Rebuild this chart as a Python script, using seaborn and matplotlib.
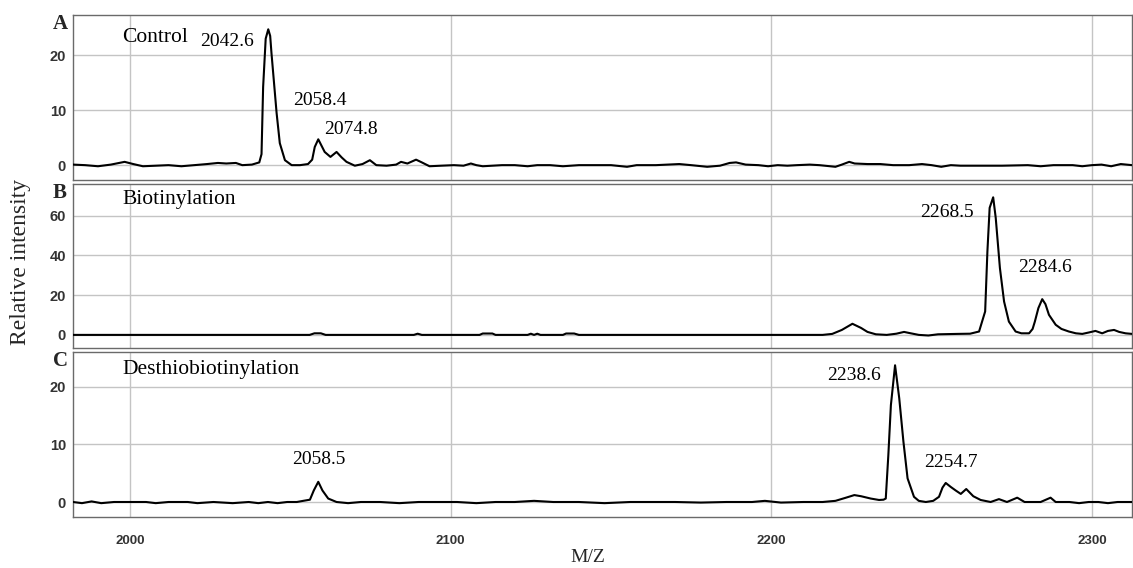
import pandas as pd
import seaborn as sns
import matplotlib.pyplot as plt

# spectra (m/z, relative intensity)
mz_a = [1982.2, 1986, 1990, 1994, 1998.3, 2001, 2004, 2008, 2012, 2016, 2020, 2024, 2027.4, 2030, 2033, 2035,
        2038, 2040.3, 2041.0, 2041.5, 2042.3, 2043.1, 2043.7, 2044.1, 2045.7, 2046.7, 2048.3, 2050.4, 2053,
        2055.5, 2056.8, 2057.6, 2058.7, 2060.7, 2062.5, 2064.4, 2066, 2067.5, 2070.1, 2072.5, 2074.8, 2076.8,
        2080, 2083, 2084.5, 2086.5, 2089.2, 2091, 2093.4, 2097, 2101, 2104, 2106.3, 2108, 2110, 2113, 2116,
        2120, 2124, 2127, 2131, 2135, 2140, 2146, 2150, 2155, 2158, 2164, 2171.3, 2175, 2180, 2184, 2187,
        2189, 2192, 2196, 2199, 2202, 2205, 2208, 2212, 2215, 2220, 2222, 2224.3, 2226, 2230, 2234, 2238,
        2243, 2247, 2250, 2253, 2256, 2259, 2264, 2272, 2280, 2284, 2288, 2294, 2297, 2300, 2303, 2306,
        2309, 2312.5]
int_a = [0.1, 0.0, -0.2, 0.1, 0.6, 0.2, -0.2, -0.1, 0.0, -0.2, 0.0, 0.2, 0.4, 0.3, 0.4, 0.0,
         0.1, 0.5, 2.0, 14.2, 23.0, 24.7, 23.5, 20.4, 9.5, 4.0, 0.9, 0.0, 0.0,
         0.2, 1.0, 3.3, 4.7, 2.4, 1.5, 2.4, 1.4, 0.6, -0.1, 0.2, 0.9, 0.0,
         -0.1, 0.1, 0.6, 0.3, 1.0, 0.5, -0.2, -0.1, 0.0, -0.1, 0.3, 0.0, -0.2, -0.1, 0.0,
         0.0, -0.2, 0.0, 0.0, -0.2, 0.0, 0.0, 0.0, -0.3, 0.0, 0.0, 0.2, 0.0, -0.3, -0.1, 0.4,
         0.5, 0.1, 0.0, -0.2, 0.0, -0.1, 0.0, 0.1, 0.0, -0.3, 0.1, 0.6, 0.3, 0.2, 0.2, 0.0,
         0.0, 0.2, 0.0, -0.3, 0.0, -0.1, -0.1, -0.1, 0.0, -0.2, 0.0, 0.0, -0.2, 0.0, 0.1, -0.2,
         0.2, 0.0]

mz_b = [1982.2, 2000, 2020, 2040, 2056, 2057.5, 2059.5, 2061, 2080, 2088.5, 2089.7, 2091, 2109, 2110, 2113,
        2114, 2124, 2125, 2126, 2127, 2128, 2135, 2136, 2138.5, 2140, 2160, 2190, 2210, 2216, 2219, 2222,
        2225.3, 2228, 2230, 2232.6, 2236, 2239, 2241.4, 2243.5, 2246, 2249, 2252, 2258, 2262, 2264.8,
        2266.7, 2267.4, 2268.1, 2269.2, 2270.0, 2271.3, 2272.6, 2274.1, 2276.2, 2278, 2280.4, 2281.5,
        2282.2, 2283.3, 2284.5, 2285.5, 2286.6, 2288.7, 2290.5, 2292.8, 2295, 2297, 2299, 2301.1, 2303.2,
        2305, 2306.9, 2308.5, 2310.5, 2312.5]
int_b = [0.0, 0.0, 0.0, 0.0, 0.0, 0.8, 0.8, 0.0, 0.0, 0.0, 0.6, 0.0, 0.0, 0.7, 0.7,
         0.0, 0.0, 0.6, 0.0, 0.6, 0.0, 0.0, 0.7, 0.7, 0.0, 0.0, 0.0, 0.0, 0.0, 0.5, 2.5,
         5.6, 3.5, 1.5, 0.3, 0.0, 0.6, 1.5, 0.8, 0.0, -0.3, 0.3, 0.5, 0.6, 1.7,
         11.8, 42.0, 64.0, 69.3, 58.9, 33.7, 16.8, 6.7, 1.7, 0.8, 0.8, 3.0,
         6.7, 13.5, 18.0, 15.5, 10.1, 5.1, 3.0, 1.7, 0.8, 0.5, 1.2, 2.0, 0.8,
         2.0, 2.5, 1.5, 0.8, 0.5]

mz_c = [1982.2, 1985, 1988, 1991, 1995, 2000, 2005, 2008, 2012, 2018, 2021, 2026, 2032, 2037, 2040, 2043,
        2046, 2049, 2052, 2054, 2056.1, 2057.3, 2058.7, 2060, 2061.8, 2064.4, 2068, 2072, 2078, 2084, 2090,
        2096, 2102, 2108, 2114, 2120, 2126, 2132, 2140, 2148, 2156, 2162, 2170, 2178, 2186, 2194, 2198,
        2203, 2210, 2216, 2220, 2223, 2225.9, 2228, 2231, 2233.6, 2235.0, 2235.7, 2236.5, 2237.3, 2238.6,
        2239.9, 2241.2, 2242.5, 2244.5, 2246, 2248.2, 2250.5, 2252.3, 2253.4, 2254.4, 2256, 2257.5, 2259.1,
        2260.8, 2263, 2265.3, 2268.4, 2271, 2273.5, 2276.7, 2279, 2284, 2287.1, 2288.7, 2293, 2296, 2299,
        2302, 2305, 2308, 2312.5]
int_c = [0.0, -0.2, 0.1, -0.2, 0.0, 0.0, 0.0, -0.2, 0.0, 0.0, -0.2, 0.0, -0.2, 0.0, -0.2, 0.0,
         -0.2, 0.0, 0.0, 0.2, 0.4, 2.0, 3.5, 2.0, 0.6, 0.0, -0.2, 0.0, 0.0, -0.2, 0.0,
         0.0, 0.0, -0.2, 0.0, 0.0, 0.2, 0.0, 0.0, -0.2, 0.0, 0.0, 0.0, -0.1, 0.0, 0.0, 0.2,
         -0.1, 0.0, 0.0, 0.2, 0.7, 1.2, 1.0, 0.6, 0.35, 0.4, 0.6, 8.1, 16.8, 23.7,
         18.0, 10.5, 4.1, 0.9, 0.2, 0.0, 0.2, 0.9, 2.5, 3.3, 2.6, 2.0, 1.4,
         2.25, 1.0, 0.35, 0.0, 0.5, 0.0, 0.75, 0.0, 0.0, 0.75, 0.0, 0.0, -0.2, 0.0,
         0.0, -0.2, 0.0, 0.0]

panel_letters = ["A", "B", "C"]
panel_names = ["Control", "Biotinylation", "Desthiobiotinylation"]
y_ticks = [[0, 10, 20], [0, 20, 40, 60], [0, 10, 20]]
y_lims = [(-2.7, 27.3), (-6.6, 76), (-2.6, 26)]
x_ticks = [2000, 2100, 2200, 2300]

# peak labels: (text, m/z of label centre, intensity of label centre)
peak_labels = [
    [("2042.6", 2030.1, 22.4), ("2058.4", 2059.2, 11.8), ("2074.8", 2069.0, 6.5)],
    [("2268.5", 2254.7, 61.6), ("2284.6", 2285.5, 33.8)],
    [("2058.5", 2058.9, 7.3), ("2238.6", 2225.9, 22.0), ("2254.7", 2256.1, 6.9)],
]
name_y = [23.3, 68.2, 23.0]

spectra = [(mz_a, int_a), (mz_b, int_b), (mz_c, int_c)]

sns.set_style("white")
serif = ["Liberation Serif", "DejaVu Serif"]

fig = plt.figure(figsize=(11.33, 5.68), dpi=100)
W, H = 1133, 568
tops = [15, 184, 352]
bottoms = [180, 348, 517]

for i in range(3):
    ax = fig.add_axes([73 / W, 1 - bottoms[i] / H, 1059 / W, (bottoms[i] - tops[i]) / H])
    df = pd.DataFrame({"mz": spectra[i][0], "intensity": spectra[i][1]})
    ax.set_xlim(1982.2, 2312.5)
    ax.set_ylim(*y_lims[i])
    ax.set_xticks(x_ticks)
    ax.set_yticks(y_ticks[i])
    ax.grid(True, color="#c4c4c4", linewidth=1.0)
    ax.set_axisbelow(True)
    sns.lineplot(data=df, x="mz", y="intensity", ax=ax, color="black",
                 linewidth=1.5, estimator=None, sort=False, zorder=3)
    ax.set_xlabel("")
    ax.set_ylabel("")
    for s in ax.spines.values():
        s.set_color("#6a6a6a")
        s.set_linewidth(1.0)
    ax.tick_params(axis="y", length=0, pad=5)
    ax.tick_params(axis="x", length=0)
    for lab in ax.get_yticklabels():
        lab.set_fontfamily("Liberation Sans")
        lab.set_fontweight("bold")
        lab.set_fontsize(10.5)
        lab.set_color("#333333")
    if i < 2:
        ax.set_xticklabels([])
    else:
        ax.tick_params(axis="x", pad=13)
        for lab in ax.get_xticklabels():
            lab.set_fontfamily("Liberation Sans")
            lab.set_fontweight("bold")
            lab.set_fontsize(9.5)
            lab.set_color("#333333")

    ax.text(1997.5, name_y[i], panel_names[i], family=serif, fontsize=15.5,
            ha="left", va="center", color="black")
    for txt, xm, ym in peak_labels[i]:
        ax.text(xm, ym, txt, family=serif, fontsize=14, ha="center", va="center", color="black")
    fig.text(60 / W, 1 - (tops[i] + 9) / H, panel_letters[i], family=serif, fontsize=15,
             fontweight="bold", ha="center", va="center")

fig.text(21 / W, 1 - 262 / H, "Relative intensity", family=serif, fontsize=17,
         rotation=90, ha="center", va="center")
fig.text(588 / W, 1 - 558 / H, "M/Z", family=serif, fontsize=14, ha="center", va="center")

fig.savefig("out.png", dpi=100)
